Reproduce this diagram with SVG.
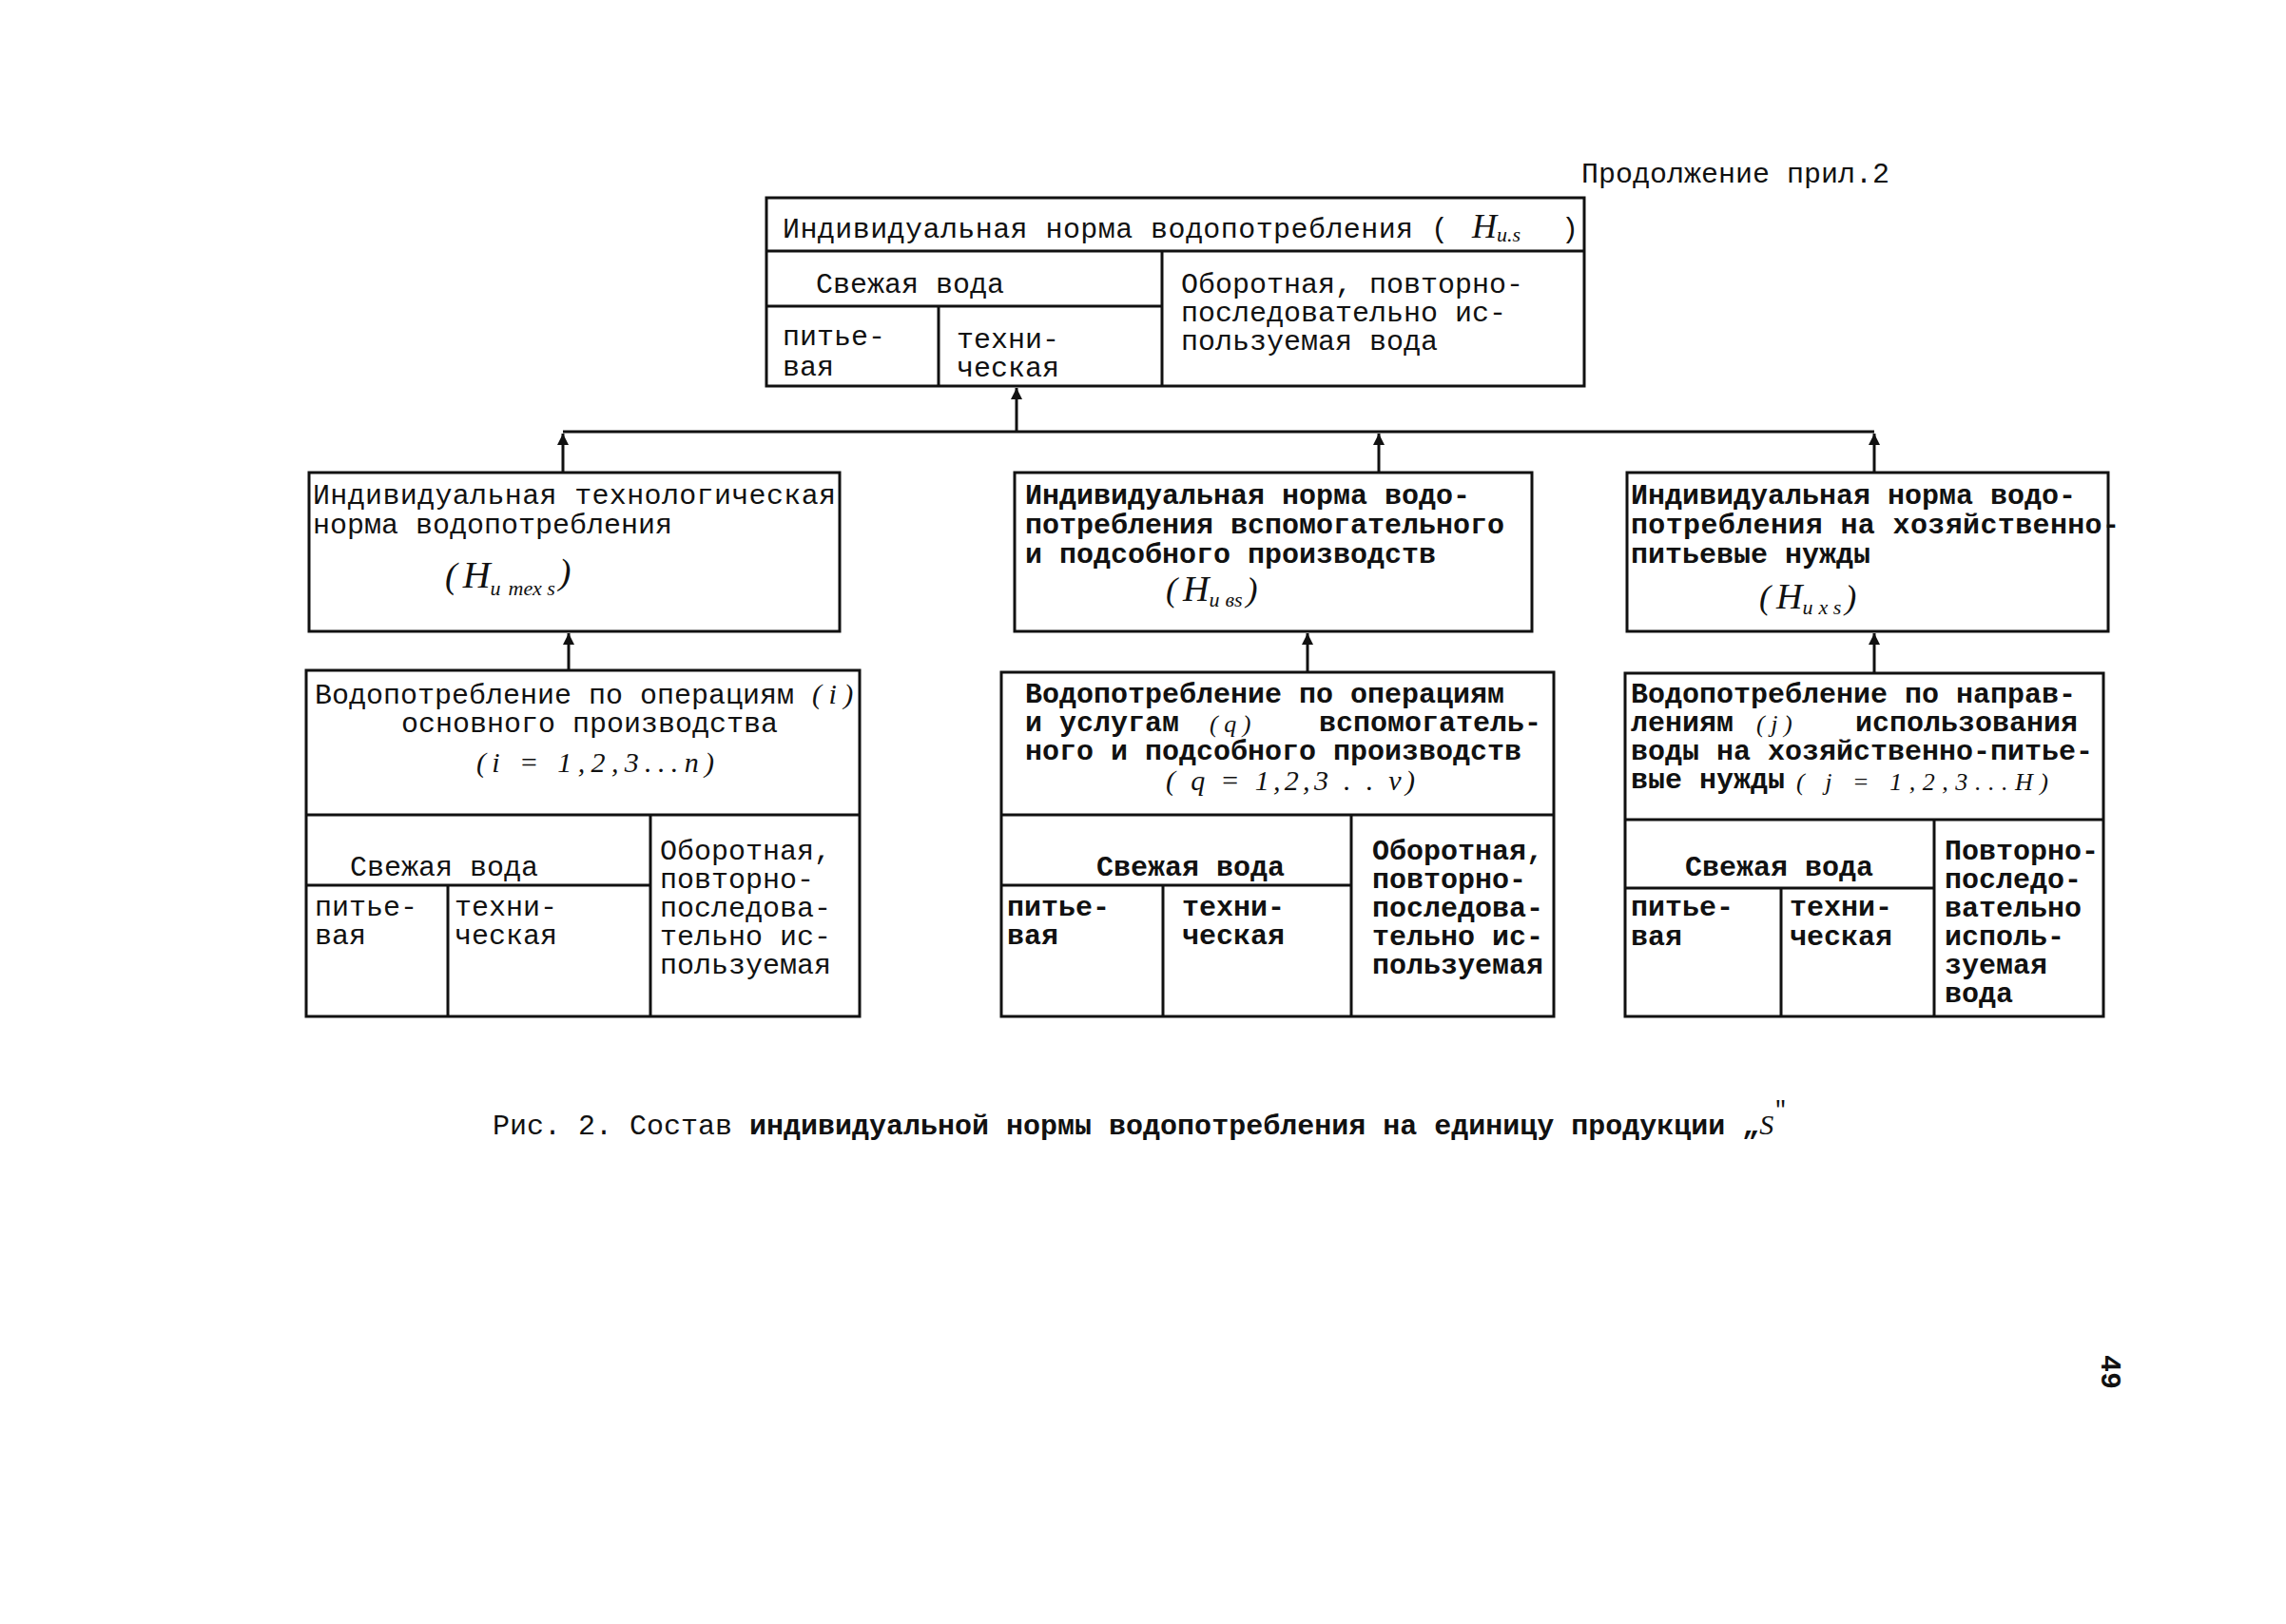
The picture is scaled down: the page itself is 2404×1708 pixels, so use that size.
<svg xmlns="http://www.w3.org/2000/svg" width="2404" height="1708" viewBox="0 0 2404 1708">
<style>
.t{font-family:"Liberation Mono","DejaVu Sans Mono",monospace;font-size:30px;fill:#111}
.b{font-weight:bold}
.h{font-family:"Liberation Serif",serif;font-style:italic;font-size:30px;fill:#111}
.hi{font-size:26px}
.s{font-size:22px}
.ln{stroke:#111;stroke-width:3;fill:none}
.c{stroke:#111;stroke-width:3;fill:none}
</style>
<defs>
<marker id="arr" viewBox="0 0 10 10" refX="10" refY="5" markerUnits="userSpaceOnUse" markerWidth="20" markerHeight="12" orient="auto">
<path d="M0,0 L10,5 L0,10 z" fill="#111"/>
</marker>
</defs>
<rect width="2404" height="1708" fill="#fff"/>

<text class="t" x="1663" y="192">Продолжение прил.2</text>

<g id="top">
<rect class="ln" x="806" y="208" width="860" height="198"/>
<line class="ln" x1="806" y1="264" x2="1666" y2="264"/>
<line class="ln" x1="806" y1="322" x2="1222" y2="322"/>
<line class="ln" x1="1222" y1="264" x2="1222" y2="406"/>
<line class="ln" x1="987" y1="322" x2="987" y2="406"/>
<text class="t" x="823" y="250" textLength="700">Индивидуальная норма водопотребления (</text>
<text class="h" x="1548" y="250"><tspan font-size="36">H</tspan><tspan class="s" dy="4">u.s</tspan></text>
<text class="t" x="1642" y="250">)</text>
<text class="t" x="858" y="308">Свежая вода</text>
<text class="t" x="823" y="363">питье-</text>
<text class="t" x="823" y="395">вая</text>
<text class="t" x="1006" y="366">техни-</text>
<text class="t" x="1006" y="396">ческая</text>
<text class="t" x="1242" y="308">Оборотная, повторно-</text>
<text class="t" x="1242" y="338">последовательно ис-</text>
<text class="t" x="1242" y="368">пользуемая вода</text>
</g>

<g id="l2-tech">
<rect class="ln" x="325" y="497" width="558" height="167"/>
<text class="t" x="329" y="530" textLength="550">Индивидуальная технологическая</text>
<text class="t" x="329" y="561">норма водопотребления</text>
<text class="h" x="468" y="618"><tspan font-size="38">(</tspan><tspan font-size="40" dx="6">H</tspan><tspan class="s" dy="8">и</tspan><tspan class="s" dx="8">тех s</tspan><tspan font-size="38" dy="-12" dx="4">)</tspan></text>
</g>

<g id="l2-aux">
<rect class="ln" x="1067" y="497" width="544" height="167"/>
<text class="t b" x="1078" y="530">Индивидуальная норма водо-</text>
<text class="t b" x="1078" y="561">потребления вспомогательного</text>
<text class="t b" x="1078" y="592">и подсобного производств</text>
<text class="h" x="1226" y="632"><tspan font-size="36">(</tspan><tspan font-size="38" dx="6">H</tspan><tspan class="s" dy="6">и</tspan><tspan class="s" dx="6">вs</tspan><tspan font-size="36" dy="-6" dx="4">)</tspan></text>
</g>

<g id="l2-house">
<rect class="ln" x="1711" y="497" width="506" height="167"/>
<text class="t b" x="1715" y="530">Индивидуальная норма водо-</text>
<text class="t b" x="1715" y="561" textLength="514">потребления на хозяйственно-</text>
<text class="t b" x="1715" y="592">питьевые нужды</text>
<text class="h" x="1850" y="640"><tspan font-size="36">(</tspan><tspan font-size="38" dx="6">H</tspan><tspan class="s" dy="6">и</tspan><tspan class="s" dx="6">х s</tspan><tspan font-size="36" dy="-6" dx="4">)</tspan></text>
</g>

<g id="l3-main">
<rect class="ln" x="322" y="705" width="582" height="364"/>
<line class="ln" x1="322" y1="857" x2="904" y2="857"/>
<line class="ln" x1="322" y1="931" x2="684" y2="931"/>
<line class="ln" x1="684" y1="857" x2="684" y2="1069"/>
<line class="ln" x1="471" y1="931" x2="471" y2="1069"/>
<text class="t" x="331" y="740">Водопотребление по операциям</text>
<text class="h" x="854" y="740">( i )</text>
<text class="t" x="422" y="770">основного производства</text>
<text class="h" x="501" y="812" font-size="32" textLength="250" lengthAdjust="spacing">(i = 1,2,3...n)</text>
<text class="t" x="368" y="921">Свежая вода</text>
<text class="t" x="331" y="963">питье-</text>
<text class="t" x="331" y="993">вая</text>
<text class="t" x="478" y="963">техни-</text>
<text class="t" x="478" y="993">ческая</text>
<text class="t" x="694" y="904">Оборотная,</text>
<text class="t" x="694" y="934">повторно-</text>
<text class="t" x="694" y="964">последова-</text>
<text class="t" x="694" y="994">тельно ис-</text>
<text class="t" x="694" y="1024">пользуемая</text>
</g>

<g id="l3-aux">
<rect class="ln" x="1053" y="707" width="581" height="362"/>
<line class="ln" x1="1053" y1="857" x2="1634" y2="857"/>
<line class="ln" x1="1053" y1="931" x2="1421" y2="931"/>
<line class="ln" x1="1421" y1="857" x2="1421" y2="1069"/>
<line class="ln" x1="1223" y1="931" x2="1223" y2="1069"/>
<text class="t b" x="1078" y="739">Водопотребление по операциям</text>
<text class="t b" x="1078" y="769">и услугам</text>
<text class="h hi" x="1272" y="770">(  q  )</text>
<text class="t b" x="1387" y="769">вспомогатель-</text>
<text class="t b" x="1078" y="799">ного и подсобного производств</text>
<text class="h" x="1226" y="831" textLength="262" lengthAdjust="spacing">( q = 1,2,3 . . v)</text>
<text class="t b" x="1153" y="921">Свежая вода</text>
<text class="t b" x="1059" y="963">питье-</text>
<text class="t b" x="1059" y="993">вая</text>
<text class="t b" x="1243" y="963">техни-</text>
<text class="t b" x="1243" y="993">ческая</text>
<text class="t b" x="1443" y="904">Оборотная,</text>
<text class="t b" x="1443" y="934">повторно-</text>
<text class="t b" x="1443" y="964">последова-</text>
<text class="t b" x="1443" y="994">тельно ис-</text>
<text class="t b" x="1443" y="1024">пользуемая</text>
</g>

<g id="l3-house">
<rect class="ln" x="1709" y="708" width="503" height="361"/>
<line class="ln" x1="1709" y1="862" x2="2212" y2="862"/>
<line class="ln" x1="1709" y1="934" x2="2034" y2="934"/>
<line class="ln" x1="2034" y1="862" x2="2034" y2="1069"/>
<line class="ln" x1="1873" y1="934" x2="1873" y2="1069"/>
<text class="t b" x="1715" y="739">Водопотребление по направ-</text>
<text class="t b" x="1715" y="769">лениям</text>
<text class="h hi" x="1847" y="770">( j )</text>
<text class="t b" x="1951" y="769">использования</text>
<text class="t b" x="1715" y="799">воды на хозяйственно-питье-</text>
<text class="t b" x="1715" y="829">вые нужды</text>
<text class="h hi" x="1889" y="831" textLength="265" lengthAdjust="spacing">( j = 1,2,3...H)</text>
<text class="t b" x="1772" y="921">Свежая вода</text>
<text class="t b" x="1715" y="963">питье-</text>
<text class="t b" x="1715" y="994">вая</text>
<text class="t b" x="1882" y="963">техни-</text>
<text class="t b" x="1882" y="994">ческая</text>
<text class="t b" x="2045" y="904">Повторно-</text>
<text class="t b" x="2045" y="934">последо-</text>
<text class="t b" x="2045" y="964">вательно</text>
<text class="t b" x="2045" y="994">исполь-</text>
<text class="t b" x="2045" y="1024">зуемая</text>
<text class="t b" x="2045" y="1054">вода</text>
</g>

<g id="connectors">
<line class="c" x1="592" y1="454" x2="1971" y2="454"/>
<line class="c" x1="1069" y1="454" x2="1069" y2="408" marker-end="url(#arr)"/>
<line class="c" x1="592" y1="497" x2="592" y2="456" marker-end="url(#arr)"/>
<line class="c" x1="1450" y1="497" x2="1450" y2="456" marker-end="url(#arr)"/>
<line class="c" x1="1971" y1="497" x2="1971" y2="456" marker-end="url(#arr)"/>
<line class="c" x1="598" y1="705" x2="598" y2="666" marker-end="url(#arr)"/>
<line class="c" x1="1375" y1="707" x2="1375" y2="666" marker-end="url(#arr)"/>
<line class="c" x1="1971" y1="708" x2="1971" y2="666" marker-end="url(#arr)"/>
</g>

<text class="t" x="518" y="1193">Рис. 2. Состав <tspan class="b">индивидуальной нормы водопотребления на единицу продукции „</tspan><tspan class="h" font-size="38">S</tspan><tspan font-size="24" dy="-18">"</tspan></text>

<text class="t b" transform="translate(2210,1425) rotate(90)">49</text>
</svg>
